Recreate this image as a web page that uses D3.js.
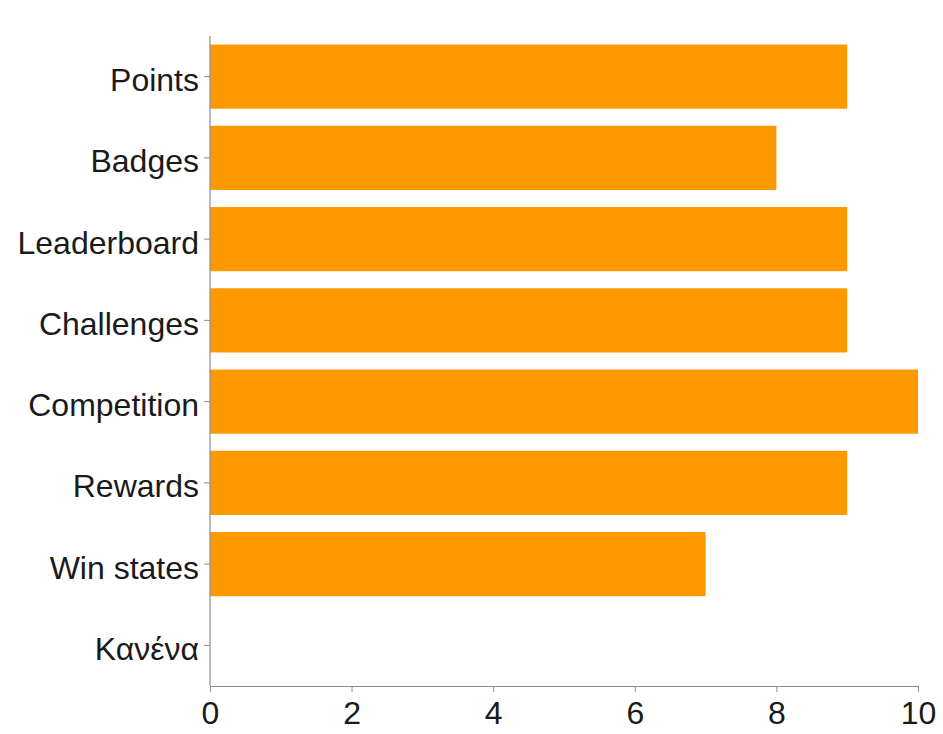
<!DOCTYPE html>
<html>
<head>
<meta charset="utf-8">
<script src="https://cdn.jsdelivr.net/npm/d3@7"></script>
<style>
  html, body { margin: 0; padding: 0; background: #fff; }
  svg { display: block; }
</style>
</head>
<body>
<svg id="chart" width="943" height="734"></svg>
<script>
const categories = ["Points", "Badges", "Leaderboard", "Challenges", "Competition", "Rewards", "Win states", "Κανένα"];
const values = [9, 8, 9, 9, 10, 9, 7, 0];
const xTicks = [0, 2, 4, 6, 8, 10];

const svg = d3.select("#chart");
const margin = { left: 210, right: 943 - 918, top: 36, bottom: 734 - 686 };
const width = 943, height = 734;

const x = d3.scaleLinear().domain([0, 10]).range([margin.left, width - margin.right]);
const y = d3.scaleBand().domain(categories).range([margin.top, height - margin.bottom]).paddingInner(0.21).paddingOuter(0.105);

svg.append("g").selectAll("rect")
  .data(categories)
  .join("rect")
  .attr("x", x(0))
  .attr("y", (d) => y(d))
  .attr("width", (d, i) => x(values[i]) - x(0))
  .attr("height", y.bandwidth())
  .attr("fill", "#FF9900");

const axisColor = "#8c8c94";
const font = "'Liberation Sans', Arial, Helvetica, sans-serif";

const yAxis = svg.append("g")
  .attr("transform", `translate(${margin.left},0)`)
  .call(d3.axisLeft(y).tickSize(6).tickPadding(5).tickSizeOuter(0));
yAxis.select(".domain").attr("stroke", axisColor).attr("stroke-width", 1.2)
  .attr("d", `M0,${margin.top}V${height - margin.bottom}`);
yAxis.selectAll(".tick line").attr("stroke", axisColor);
yAxis.selectAll(".tick text").attr("fill", "#1a1a1a").style("font-family", font).style("font-size", "32px").attr("dy", "0.45em");

const xAxis = svg.append("g")
  .attr("transform", `translate(0,${height - margin.bottom})`)
  .call(d3.axisBottom(x).tickValues(xTicks).tickFormat(d3.format("d")).tickSize(6).tickPadding(9).tickSizeOuter(0));
xAxis.select(".domain").attr("stroke", axisColor).attr("stroke-width", 1.2);
xAxis.selectAll(".tick line").attr("stroke", axisColor);
xAxis.selectAll(".tick text").attr("fill", "#1a1a1a").style("font-family", font).style("font-size", "32px");
</script>
</body>
</html>
